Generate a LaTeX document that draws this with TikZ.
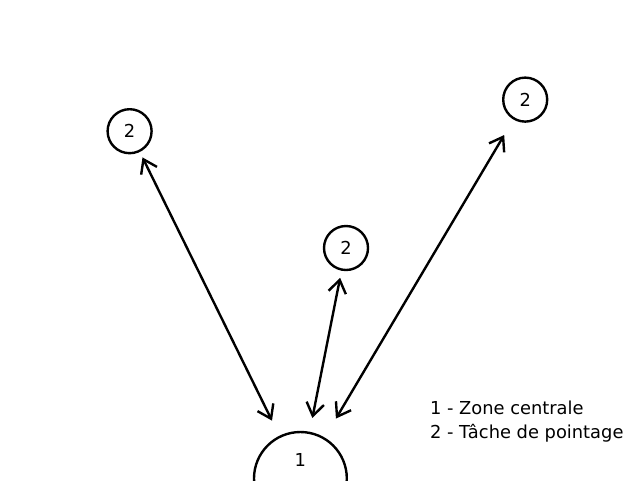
\documentclass[tikz,border=0pt]{standalone}
\usepackage{fontspec}
\setmainfont{DejaVu Sans}
\usetikzlibrary{arrows.meta}

\begin{document}
\begin{tikzpicture}[<->,>={Straight Barb[length=3.2mm,width=4.4mm]},line width=1.7pt,
                    font=\fontsize{12.7}{17.7}\selectfont]
\useasboundingbox (0,0) rectangle (16,-12);
\node[draw, circle, minimum size=1.1cm, inner sep=0pt] (A) at (3.24,-3.28) {2};
\node[draw, circle, minimum size=1.1cm, inner sep=0pt] (B) at (8.65,-6.2) {2};
\node[draw, circle, minimum size=1.1cm, inner sep=0pt] (C) at (13.13,-2.49) {2};
\node[draw, circle, minimum size=2.32cm, inner sep=0pt,
      label={[yshift=0.46cm]center:1}] (Z) at (7.51,-11.96) {};

\draw[shorten <=0.15cm, shorten >=0.42cm] (A) to (Z);
\draw[shorten <=0.18cm, shorten >=0.35cm] (B) to (Z);
\draw[shorten <=0.45cm, shorten >=0.55cm] (C) to (Z);

\node[align=left, anchor=west, inner sep=0pt] (legend) at (10.72,-10.54)
  {1 - Zone centrale\\2 - Tâche de pointage};
\end{tikzpicture}
\end{document}
